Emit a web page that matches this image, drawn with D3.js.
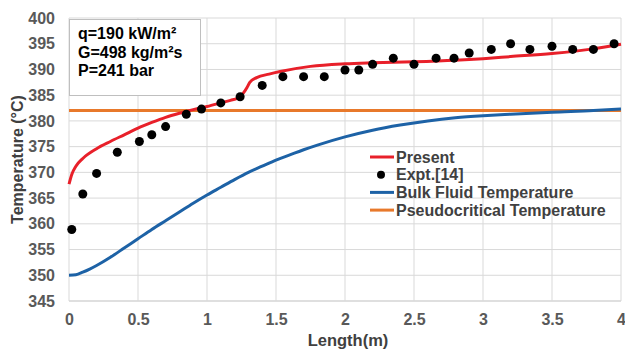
<!DOCTYPE html>
<html><head><meta charset="utf-8">
<script src="https://cdn.jsdelivr.net/npm/d3@7"></script>
<style>body{margin:0;background:#fff}svg{display:block}</style>
</head><body><svg id="c" width="625" height="349"></svg>
<script>
const xTicks = [0, 0.5, 1, 1.5, 2, 2.5, 3, 3.5, 4];
const yTicks = [345, 350, 355, 360, 365, 370, 375, 380, 385, 390, 395, 400];
const presentX = [0, 0.02, 0.05, 0.1, 0.2, 0.3, 0.4, 0.5, 0.6, 0.7, 0.8, 0.9, 1.0, 1.1, 1.17, 1.22, 1.26, 1.29, 1.31, 1.36, 1.45, 1.53, 1.75, 2.0, 2.2, 2.5, 2.8, 3.0, 3.2, 3.5, 3.8, 4.0];
const presentT = [367.7, 369.6, 371.2, 372.7, 374.6, 376.0, 377.3, 378.6, 379.7, 380.7, 381.5, 382.2, 382.8, 383.5, 384.0, 384.4, 385.3, 386.5, 387.5, 388.4, 389.1, 389.6, 390.6, 391.1, 391.3, 391.5, 391.8, 392.1, 392.5, 393.1, 394.0, 394.9];
const exptX = [0.02, 0.1, 0.2, 0.35, 0.51, 0.6, 0.7, 0.85, 0.96, 1.1, 1.24, 1.4, 1.55, 1.7, 1.85, 2.0, 2.1, 2.2, 2.35, 2.5, 2.66, 2.79, 2.9, 3.06, 3.2, 3.34, 3.5, 3.65, 3.8, 3.95];
const exptT = [358.9, 365.8, 369.8, 373.9, 376.0, 377.3, 378.9, 381.3, 382.3, 383.5, 384.7, 386.9, 388.6, 388.6, 388.6, 389.9, 389.9, 391.0, 392.2, 391.0, 392.2, 392.2, 393.2, 393.9, 395.0, 393.9, 394.5, 393.9, 393.9, 395.0];
const bulkX = [0, 0.05, 0.1, 0.15, 0.2, 0.3, 0.4, 0.5, 0.6, 0.7, 0.8, 0.9, 1.0, 1.1, 1.2, 1.3, 1.4, 1.5, 1.6, 1.7, 1.8, 2.0, 2.2, 2.4, 2.6, 2.8, 3.0, 3.2, 3.5, 3.8, 4.0];
const bulkT = [350.0, 350.1, 350.6, 351.2, 351.9, 353.5, 355.3, 357.1, 358.9, 360.6, 362.3, 364.0, 365.6, 367.1, 368.6, 370.0, 371.2, 372.4, 373.4, 374.4, 375.3, 376.9, 378.2, 379.2, 380.0, 380.6, 381.0, 381.3, 381.7, 382.0, 382.3];
const pseudoX = [0, 4];
const pseudoT = [382, 382];
const infoLines = ["q=190 kW/m²", "G=498 kg/m²s", "P=241 bar"];
const legendNames = ["Present", "Expt.[14]", "Bulk Fluid Temperature", "Pseudocritical Temperature"];
const colors = {present: "#e8202a", expt: "#000000", bulk: "#1d62a6", pseudo: "#e8792b"};

const svg = d3.select("#c");
const font = "'Liberation Sans', Arial, sans-serif";
const L = 69, R = 621, T = 18, B = 301;
const x = d3.scaleLinear().domain([0, 4]).range([L, R]);
const y = d3.scaleLinear().domain([345, 400]).range([B, T]);

// grid
svg.append("g").selectAll("line").data(yTicks).join("line")
  .attr("x1", L).attr("x2", R).attr("y1", d => y(d)).attr("y2", d => y(d))
  .attr("stroke", d => d === 345 ? "#bfbfbf" : "#d9d9d9").attr("stroke-width", 1);
svg.append("g").selectAll("line").data(xTicks).join("line")
  .attr("y1", T).attr("y2", B).attr("x1", d => x(d)).attr("x2", d => x(d))
  .attr("stroke", "#d9d9d9").attr("stroke-width", 1);

// axes (labels via d3 axes)
const xa = svg.append("g").attr("transform", `translate(0,${B})`)
  .call(d3.axisBottom(x).tickValues(xTicks).tickFormat(d3.format("")).tickSize(0).tickPadding(13));
const ya = svg.append("g").attr("transform", `translate(${L},0)`)
  .call(d3.axisLeft(y).tickValues(yTicks).tickSize(0).tickPadding(14));
[xa, ya].forEach(a => {
  a.select(".domain").remove();
  a.selectAll("text").attr("font-family", font).attr("font-size", 16).attr("font-weight", "bold").attr("fill", "#595959");
});

// axis titles
svg.append("text").attr("x", 348).attr("y", 346).attr("text-anchor", "middle")
  .attr("font-family", font).attr("font-size", 16.5).attr("font-weight", "bold").attr("fill", "#404040").text("Length(m)");
svg.append("text").attr("transform", `translate(23,${(T + B) / 2}) rotate(-90)`).attr("text-anchor", "middle")
  .attr("font-family", font).attr("font-size", 16).attr("font-weight", "bold").attr("fill", "#404040").text("Temperature (°C)");

// info box
svg.append("rect").attr("x", 69.5).attr("y", 19.5).attr("width", 131).attr("height", 76)
  .attr("fill", "#fff").attr("stroke", "#bfbfbf").attr("stroke-width", 1);
svg.append("g").selectAll("text").data(infoLines).join("text")
  .attr("x", 78).attr("y", (d, i) => 39 + i * 18.5)
  .attr("font-family", font).attr("font-size", 16).attr("font-weight", "bold").attr("fill", "#000").text(d => d);

const line = d3.line().x(d => x(d[0])).y(d => y(d[1])).curve(d3.curveMonotoneX);
svg.append("path").datum(pseudoX.map((v, i) => [v, pseudoT[i]])).attr("d", line)
  .attr("fill", "none").attr("stroke", colors.pseudo).attr("stroke-width", 3);
svg.append("path").datum(bulkX.map((v, i) => [v, bulkT[i]])).attr("d", line)
  .attr("fill", "none").attr("stroke", colors.bulk).attr("stroke-width", 3);
svg.append("path").datum(presentX.map((v, i) => [v, presentT[i]])).attr("d", line)
  .attr("fill", "none").attr("stroke", colors.present).attr("stroke-width", 3);
svg.append("g").selectAll("circle").data(exptX.map((v, i) => [v, exptT[i]])).join("circle")
  .attr("cx", d => x(d[0])).attr("cy", d => y(d[1])).attr("r", 4.5).attr("fill", colors.expt);

// legend
const lg = svg.append("g");
const lc = [colors.present, colors.expt, colors.bulk, colors.pseudo];
legendNames.forEach((n, i) => {
  const yy = 157 + i * 17.7;
  if (i === 1) lg.append("circle").attr("cx", 381).attr("cy", yy).attr("r", 4).attr("fill", lc[i]);
  else lg.append("line").attr("x1", 370).attr("x2", 394).attr("y1", yy).attr("y2", yy).attr("stroke", lc[i]).attr("stroke-width", 3);
  lg.append("text").attr("x", 396).attr("y", yy + 5.5).attr("font-family", font).attr("font-size", 16)
    .attr("font-weight", "bold").attr("fill", "#404040").text(n);
});
</script></body></html>
